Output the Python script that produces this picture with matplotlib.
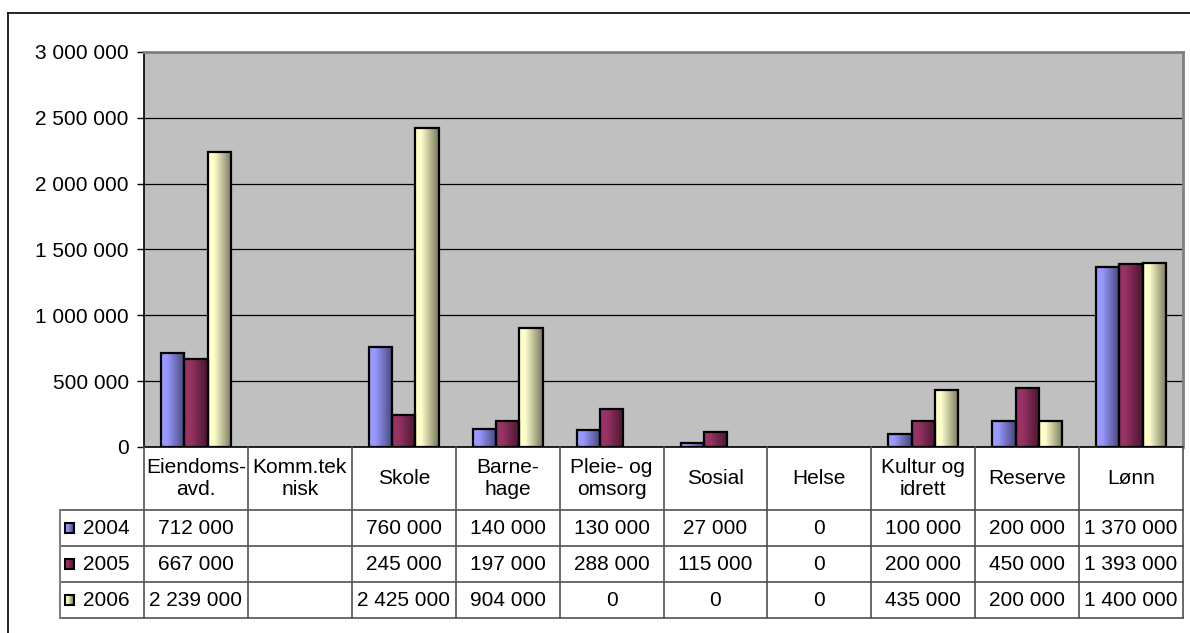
import numpy as np
import matplotlib
matplotlib.use('Agg')
import matplotlib.pyplot as plt
from matplotlib.colors import LinearSegmentedColormap
from matplotlib.patches import Rectangle
from matplotlib.lines import Line2D

plt.rcParams['font.family'] = ['Liberation Sans', 'DejaVu Sans']

categories = ['Eiendoms-\navd.', 'Komm.tek\nnisk', 'Skole', 'Barne-\nhage',
              'Pleie- og\nomsorg', 'Sosial', 'Helse', 'Kultur og\nidrett',
              'Reserve', 'Lønn']
years = ['2004', '2005', '2006']
v2004 = [712000, np.nan, 760000, 140000, 130000, 27000, 0, 100000, 200000, 1370000]
v2005 = [667000, np.nan, 245000, 197000, 288000, 115000, 0, 200000, 450000, 1393000]
v2006 = [2239000, np.nan, 2425000, 904000, 0, 0, 0, 435000, 200000, 1400000]
yticks = [0, 500000, 1000000, 1500000, 2000000, 2500000, 3000000]

light = ['#9999FF', '#993366', '#FFFFCC']
dark = ['#464678', '#48162F', '#78785E']

W, H = 1190, 633
FS = 15


def fmt(v):
    return '{:,}'.format(int(v)).replace(',', ' ')


def grad_fill(ax, patch, c1, c2, x0, x1, y0, y1):
    cmap = LinearSegmentedColormap.from_list('g', [(0, c1), (0.25, c1), (1, c2)])
    im = ax.imshow(np.linspace(0, 1, 64).reshape(1, -1), cmap=cmap,
                   extent=(x0, x1, y0, y1), aspect='auto', zorder=2.5,
                   interpolation='bilinear')
    im.set_clip_path(patch)
    return im


def run():
    series = [np.array(v2004, float), np.array(v2005, float), np.array(v2006, float)]
    x = np.arange(len(categories))
    bw = 0.224

    fig = plt.figure(figsize=(W / 100, H / 100), dpi=100)

    # outer chart frame (cut off at right and bottom)
    fig.add_artist(Line2D([8 / W, 1], [1 - 12.5 / H, 1 - 12.5 / H], color='black',
                          lw=1.2, transform=fig.transFigure))
    fig.add_artist(Line2D([8 / W, 8 / W], [1 - 12.5 / H, 0], color='black',
                          lw=1.2, transform=fig.transFigure))

    ax = fig.add_axes([144 / W, 1 - 447 / H, (1183 - 144) / W, (447 - 52) / H])
    ax.set_facecolor('#C0C0C0')

    for k, vals in enumerate(series):
        for i in range(len(categories)):
            v = vals[i]
            if np.isnan(v) or v == 0:
                continue
            xc = x[i] + (k - 1) * bw
            b = ax.bar(xc, v, width=bw, facecolor='none', edgecolor='black',
                       linewidth=1.6, zorder=3)[0]
            grad_fill(ax, b, light[k], dark[k], xc - bw / 2, xc + bw / 2, 0, v)

    ax.set_xlim(-0.5, len(categories) - 0.5)
    ax.set_ylim(0, 3000000)
    ax.set_yticks(yticks)
    ax.set_yticklabels([fmt(t) for t in yticks], fontsize=FS)
    ax.set_xticks([])
    ax.yaxis.grid(True, color='black', lw=0.9)
    ax.set_axisbelow(True)
    ax.tick_params(axis='y', length=5, width=1, pad=6, color='black')
    ax.spines['left'].set_color('black')
    ax.spines['bottom'].set_color('black')
    ax.spines['left'].set_linewidth(1.2)
    ax.spines['bottom'].set_linewidth(1.2)
    for s in ['top', 'right']:
        ax.spines[s].set_color('#808080')
        ax.spines[s].set_linewidth(2)

    # data table under the chart
    tax = fig.add_axes([144 / W, 1 - 618 / H, (1183 - 144) / W, (618 - 447) / H])
    tax.set_xlim(-0.5, len(categories) - 0.5)
    tax.set_ylim(171, 0)
    tax.axis('off')

    lc = '#505050'
    leg_left = -0.5 - 84 / 104
    rows = [0, 63, 99, 135, 171]
    for k in range(len(categories) + 1):
        tax.plot([k - 0.5, k - 0.5], [0, 171], color=lc, lw=1.2, clip_on=False)
    for r in rows[1:]:
        tax.plot([leg_left, len(categories) - 0.5], [r, r], color=lc, lw=1.2, clip_on=False)
    tax.plot([leg_left, leg_left], [63, 171], color='#808080', lw=1.5, clip_on=False)

    for i, c in enumerate(categories):
        tax.text(x[i], 31.5, c, ha='center', va='center', fontsize=FS,
                 linespacing=1.25)

    kx = -0.5 + (65 - 144) / 104
    kw = 9 / 104
    for k, vals in enumerate(series):
        yc = (rows[k + 1] + rows[k + 2]) / 2
        for i in range(len(categories)):
            if not np.isnan(vals[i]):
                tax.text(x[i], yc + 1, fmt(vals[i]), ha='center', va='center',
                         fontsize=FS)
        key = Rectangle((kx, yc - 5), kw, 10, facecolor='none', edgecolor='black',
                        lw=1.5, clip_on=False, zorder=3)
        tax.add_patch(key)
        im = grad_fill(tax, key, light[k], dark[k], kx, kx + kw, yc + 5, yc - 5)
        im.set_clip_on(True)
        tax.text(-0.5 + (83 - 144) / 104, yc + 1, years[k], ha='left', va='center',
                 fontsize=FS, clip_on=False)

    tax.set_xlim(-0.5, len(categories) - 0.5)
    tax.set_ylim(171, 0)

    fig.savefig('out.png', dpi=100)


if __name__ == "__main__":
    run()
